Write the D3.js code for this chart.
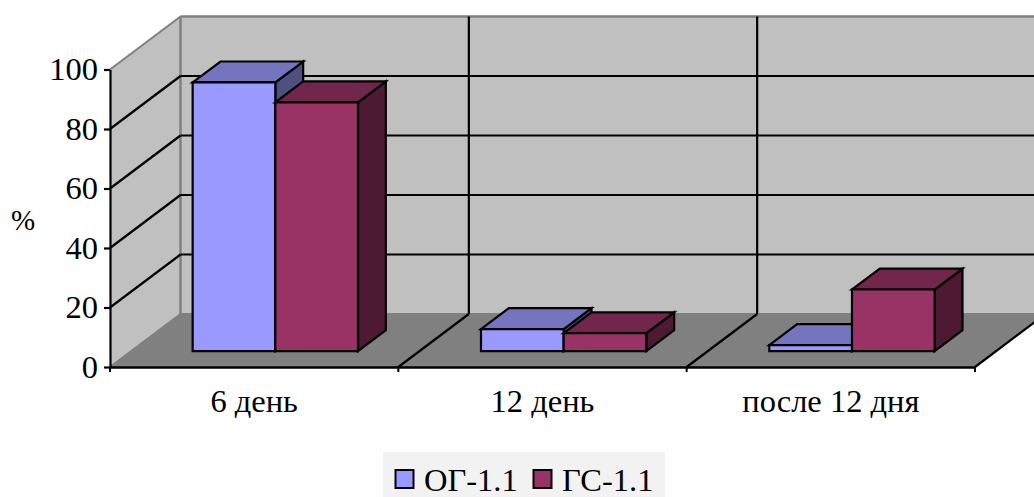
<!DOCTYPE html>
<html>
<head>
<meta charset="utf-8">
<script src="https://cdn.jsdelivr.net/npm/d3@7/dist/d3.min.js"></script>
<style>
  html, body { margin: 0; padding: 0; background: #fff; overflow: hidden; }
  svg { display: block; }
  text { font-family: "Liberation Serif", serif; fill: #000; }
</style>
</head>
<body>
<div id="chart"></div>
<script>
// Share of cases per period, two groups
const categories = ["6 день", "12 день", "после 12 дня"];
const seriesNames = ["ОГ-1.1", "ГС-1.1"];
const og11 = [90.3, 7.4, 2];
const gs11 = [83.6, 6, 20.7];
const yTicks = [0, 20, 40, 60, 80, 100];
const yTitle = "%";

const W = 1034, H = 497;
const fontSize = 32.5;
const svg = d3.select("#chart").append("svg").attr("width", W).attr("height", H);

const x0 = d3.scaleBand().domain(categories).range([110, 975]);
const y = d3.scaleLinear().domain([0, 100]).range([367, 69.5]);
const depthX = d3.scaleLinear().domain([0, 1]).range([0, 70.5]);
const depthY = d3.scaleLinear().domain([0, 1]).range([0, -53]);

// Oblique projection: screen x, value, depth from front (0) to back wall (1)
const pt = (px, v, d) => [px + depthX(d), y(v) + depthY(d)];
const poly = pts => "M" + pts.map(p => p.join(",")).join("L") + "Z";

const xInner = d3.scaleBand().domain(d3.range(seriesNames.length)).paddingInner(0);
const gap = 61.5;
xInner.range([gap, x0.bandwidth() - gap]);

const xEdges = [...categories.map(c => x0(c)), x0.range()[1]];
const [xL, xR] = x0.range();
const yMax = y.domain()[1];

const gray = "#808080";

// Walls and floor
svg.append("path").attr("d", poly([pt(xL, 0, 0), pt(xR, 0, 0), pt(xR, 0, 1), pt(xL, 0, 1)]))
  .attr("fill", "#808080");
svg.append("path").attr("d", poly([pt(xL, 0, 1), pt(xR, 0, 1), pt(xR, yMax, 1), pt(xL, yMax, 1)]))
  .attr("fill", "#c0c0c0");
svg.append("path").attr("d", poly([pt(xL, 0, 0), pt(xL, 0, 1), pt(xL, yMax, 1), pt(xL, yMax, 0)]))
  .attr("fill", "#c0c0c0");

// Gray wall outlines
const outline = (a, b, w) => svg.append("line")
  .attr("x1", a[0]).attr("y1", a[1]).attr("x2", b[0]).attr("y2", b[1])
  .attr("stroke", gray).attr("stroke-width", w);
outline(pt(xL, yMax, 0), pt(xL, yMax, 1), 2);
outline(pt(xL, yMax, 1), pt(xR, yMax, 1), 2.5);
outline(pt(xL, yMax, 1), pt(xL, 0, 1), 2.5);
outline(pt(xL, 0, 1), pt(xR, 0, 1), 2);
outline(pt(xL, 0, 1), pt(xL, 0, 0), 2);

// Gridlines: along the side wall, then across the back wall
const rule = (a, b) => svg.append("line")
  .attr("x1", a[0]).attr("y1", a[1]).attr("x2", b[0]).attr("y2", b[1])
  .attr("stroke", "#000").attr("stroke-width", 2.2);
yTicks.filter(t => t > 0 && t < yMax).forEach(t => {
  rule(pt(xL, t, 0), pt(xL, t, 1));
  rule(pt(xL, t, 1), pt(xR, t, 1));
});
xEdges.slice(1, -1).forEach(e => {
  rule(pt(e, yMax, 1), pt(e, 0, 1));
  rule(pt(e, 0, 0), pt(e, 0, 1));
});
rule(pt(xR, 0, 0), pt(xR, 0, 1));

// Bars as boxes: side, top, front
const barDepth = [0.3, 0.695];
const palettes = [
  { front: "#9999ff", top: "#7575bf", side: "#4f5080" },
  { front: "#993366", top: "#73264c", side: "#4d1933" }
];
const rows = categories.flatMap((c, i) => [og11[i], gs11[i]].map((v, s) => ({ c, s, v })));
const bars = svg.append("g").selectAll("g").data(rows).join("g")
  .attr("stroke", "#000").attr("stroke-width", 2.2).attr("stroke-linejoin", "miter");
const a = barDepth[0], b = barDepth[1];
const left = d => x0(d.c) + xInner(d.s);
const right = d => left(d) + xInner.bandwidth();
bars.append("path").attr("fill", d => palettes[d.s].side)
  .attr("d", d => poly([pt(right(d), 0, a), pt(right(d), 0, b), pt(right(d), d.v, b), pt(right(d), d.v, a)]));
bars.append("path").attr("fill", d => palettes[d.s].top)
  .attr("d", d => poly([pt(left(d), d.v, a), pt(right(d), d.v, a), pt(right(d), d.v, b), pt(left(d), d.v, b)]));
bars.append("path").attr("fill", d => palettes[d.s].front)
  .attr("d", d => poly([pt(left(d), 0, a), pt(right(d), 0, a), pt(right(d), d.v, a), pt(left(d), d.v, a)]));

// Value axis on the front edge of the side wall
const yAxis = svg.append("g").attr("transform", `translate(${xL},0)`)
  .call(d3.axisLeft(y).tickValues(yTicks).tickSizeInner(6).tickSizeOuter(0).tickPadding(6));
yAxis.selectAll("path, line").attr("stroke", "#000").attr("stroke-width", 2.2);
yAxis.selectAll("text").attr("font-size", fontSize).style("font-family", '"Liberation Serif", serif');

// Category axis along the front of the floor
const xAxis = svg.append("g").attr("transform", `translate(0,${y(0)})`)
  .call(d3.axisBottom(x0).tickSize(0).tickPadding(22));
xAxis.select("path").attr("stroke", "#000").attr("stroke-width", 2.5);
xAxis.selectAll("text").attr("font-size", fontSize).style("font-family", '"Liberation Serif", serif');
xAxis.selectAll(".edge").data(xEdges).join("line").attr("class", "edge")
  .attr("x1", d => d).attr("x2", d => d).attr("y1", 0).attr("y2", 5)
  .attr("stroke", "#000").attr("stroke-width", 2);

svg.append("text").attr("x", 23).attr("y", 229.5).attr("text-anchor", "middle")
  .attr("font-size", 29).text(yTitle);

// Legend
const legend = svg.append("g");
legend.append("rect").attr("x", 383).attr("y", 452).attr("width", 282).attr("height", 45).attr("fill", "#f2f2f2");
const legendX = [395, 533];
seriesNames.forEach((name, i) => {
  legend.append("rect").attr("x", legendX[i] + 0.5).attr("y", 470).attr("width", 18).attr("height", 18)
    .attr("fill", palettes[i].front).attr("stroke", "#000").attr("stroke-width", 2);
  legend.append("text").attr("x", legendX[i] + 29).attr("y", 491).attr("font-size", fontSize).text(name);
});
</script>
</body>
</html>
